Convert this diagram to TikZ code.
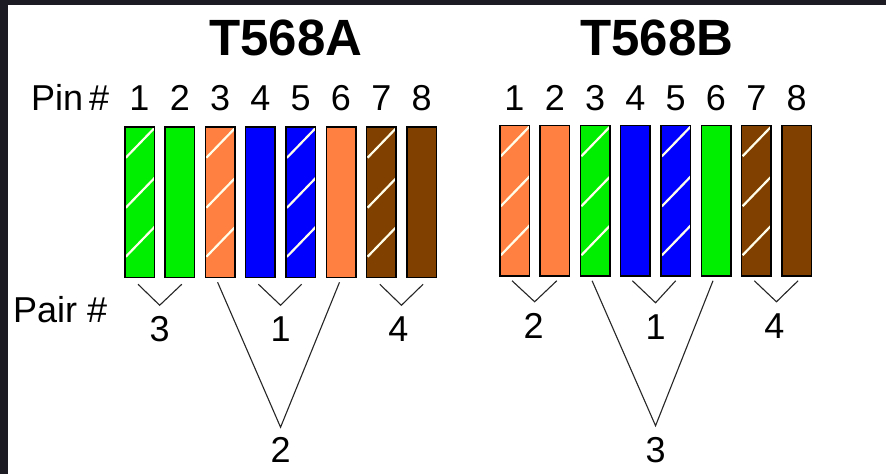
\documentclass[tikz,border=0pt]{standalone}
\usepackage{fontspec}
\setmainfont{Liberation Sans}
\usetikzlibrary{calc}
\definecolor{wgreen}{RGB}{0,238,0}
\definecolor{worange}{RGB}{255,128,64}
\definecolor{wblue}{RGB}{0,0,255}
\definecolor{wbrown}{RGB}{128,64,0}
\definecolor{edgedark}{RGB}{28,26,34}
\tikzset{
  wire/.style={draw=black, line width=1.5pt, minimum width=29.5pt, minimum height=150.5pt, inner sep=0pt, outer sep=0pt, anchor=center},
  striped/.style={path picture={
    \foreach \dy in {31,81,130}
      \draw[white!92!yellow, line width=2.2pt] ($(path picture bounding box.north west)+(1,\dy)$) -- ++(29,-30);
  }},
  lbl/.style={inner sep=0pt, anchor=base, font=\fontsize{36}{40}\selectfont},
  ttl/.style={inner sep=0pt, anchor=base, font=\fontsize{51}{56}\selectfont\bfseries},
  pairline/.style={line width=1.1pt, black!85, line join=miter},
}
\begin{document}
\begin{tikzpicture}[x=1pt,y=-1pt]
\useasboundingbox (0,0) rectangle (886,474);
\fill[white] (0,0) rectangle (886,474);
\fill[edgedark] (0,0) rectangle (886,5);
\fill[edgedark] (0,0) rectangle (8,474);

% titles
\node[ttl] (ta) at (286,55) {T568A};
\node[ttl] (tb) at (657,55) {T568B};

% side labels
\node[lbl, anchor=base west] (pin) at (31,110) {Pin\,\#};
\node[lbl, anchor=base west] (pair) at (13,322) {Pair \#};

% T568A wires
\node[wire, fill=wgreen, striped] (a1) at (139.5,202) {};
\node[wire, fill=wgreen] (a2) at (179.8,202) {};
\node[wire, fill=worange, striped] (a3) at (220.1,202) {};
\node[wire, fill=wblue] (a4) at (260.4,202) {};
\node[wire, fill=wblue, striped] (a5) at (300.7,202) {};
\node[wire, fill=worange] (a6) at (341.0,202) {};
\node[wire, fill=wbrown, striped] (a7) at (381.3,202) {};
\node[wire, fill=wbrown] (a8) at (421.6,202) {};

% T568B wires
\node[wire, fill=worange, striped] (b1) at (514.5,200.5) {};
\node[wire, fill=worange] (b2) at (554.8,200.5) {};
\node[wire, fill=wgreen, striped] (b3) at (595.1,200.5) {};
\node[wire, fill=wblue] (b4) at (635.4,200.5) {};
\node[wire, fill=wblue, striped] (b5) at (675.7,200.5) {};
\node[wire, fill=wgreen] (b6) at (716.0,200.5) {};
\node[wire, fill=wbrown, striped] (b7) at (756.3,200.5) {};
\node[wire, fill=wbrown] (b8) at (796.6,200.5) {};

% pin numbers
\foreach \i in {1,...,8} {
  \node[lbl] (pa\i) at (a\i.center |- 0,110) {\i};
  \node[lbl] (pb\i) at (b\i.center |- 0,110) {\i};
}

% T568A pairs
\coordinate (va3) at ($(a1.south)!0.5!(a2.south)+(0,28)$);
\coordinate (va1) at ($(a4.south)!0.5!(a5.south)+(0,28)$);
\coordinate (va4) at ($(a7.south)!0.5!(a8.south)+(0,28)$);
\coordinate (va2) at ($(a3.south)!0.5!(a6.south)+(0,150)$);
\draw[pairline] ($(a1.south)+(-1.5,7)$) -- (va3) -- ($(a2.south)+(2,7)$);
\draw[pairline] ($(a4.south)+(-2,7)$) -- (va1) -- ($(a5.south)+(1,7)$);
\draw[pairline] ($(a7.south)+(-1.5,7)$) -- (va4) -- ($(a8.south)+(1.5,7)$);
\draw[pairline] ($(a3.south)+(-2.5,5)$) -- (va2) -- ($(a6.south)+(-1.5,5)$);
\node[lbl] (la3) at ($(va3)+(0,36)$) {3};
\node[lbl] (la1) at ($(va1)+(0,36)$) {1};
\node[lbl] (la4) at ($(va4)+(-3,36)$) {4};
\node[lbl] (la2) at ($(va2)+(0,35)$) {2};

% T568B pairs
\coordinate (vb2) at ($(b1.south)!0.5!(b2.south)+(0,26)$);
\coordinate (vb1) at ($(b4.south)!0.5!(b5.south)+(0,27)$);
\coordinate (vb4) at ($(b7.south)!0.5!(b8.south)+(0,26)$);
\coordinate (vb3) at ($(b3.south)!0.5!(b6.south)+(0,150)$);
\draw[pairline] ($(b1.south)+(-2.5,5)$) -- (vb2) -- ($(b2.south)+(2,5)$);
\draw[pairline] ($(b4.south)+(-3,5)$) -- (vb1) -- ($(b5.south)+(0,5)$);
\draw[pairline] ($(b7.south)+(-2,5)$) -- (vb4) -- ($(b8.south)+(1.5,5)$);
\draw[pairline] ($(b3.south)+(-3,5)$) -- (vb3) -- ($(b6.south)+(-3,5)$);
\node[lbl] (lb2) at ($(vb2)+(-1,37)$) {2};
\node[lbl] (lb1) at ($(vb1)+(0,37)$) {1};
\node[lbl] (lb4) at ($(vb4)+(-2,37)$) {4};
\node[lbl] (lb3) at ($(vb3)+(0,37)$) {3};
\end{tikzpicture}
\end{document}
